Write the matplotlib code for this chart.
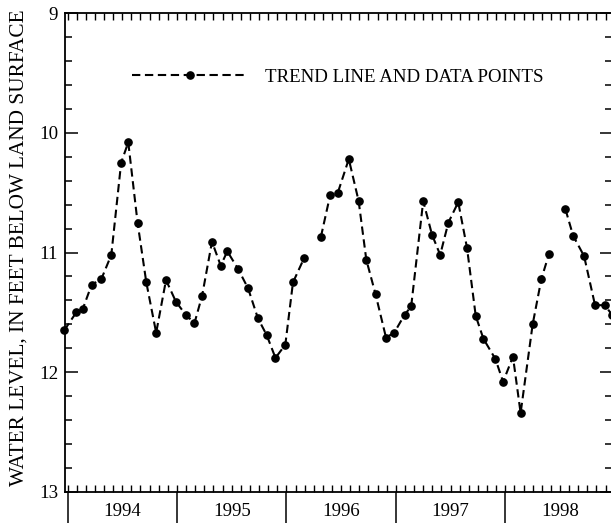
import numpy as np
import matplotlib
matplotlib.use("Agg")
import matplotlib.pyplot as plt
from matplotlib.ticker import MultipleLocator, FixedLocator, NullFormatter

# ---- data (decimal years, water level in feet below land surface) ----
dates = [1993.97, 1994.08, 1994.14, 1994.22, 1994.31, 1994.40, 1994.49, 1994.555,
         1994.64, 1994.72, 1994.81, 1994.90, 1994.99, 1995.08, 1995.16, 1995.23,
         1995.32, 1995.40, 1995.46, 1995.56, 1995.65, 1995.74, 1995.82, 1995.90,
         1995.99, 1996.06, 1996.16, 1996.24,
         1996.315, 1996.40, 1996.47, 1996.57, 1996.66, 1996.73, 1996.815, 1996.91,
         1996.985, 1997.08, 1997.14, 1997.25, 1997.33, 1997.405, 1997.48, 1997.57,
         1997.65, 1997.73, 1997.80, 1997.91, 1997.98, 1998.07, 1998.14, 1998.25,
         1998.33, 1998.40, 1998.47,
         1998.55, 1998.62, 1998.72, 1998.82, 1998.91, 1998.975]
levels = [11.65, 11.50, 11.47, 11.27, 11.22, 11.02, 10.25, 10.08,
          10.75, 11.25, 11.67, 11.23, 11.41, 11.52, 11.59, 11.36,
          10.91, 11.11, 10.99, 11.14, 11.30, 11.55, 11.69, 11.88,
          11.77, 11.25, 11.05, np.nan,
          10.87, 10.52, 10.50, 10.22, 10.57, 11.06, 11.35, 11.71,
          11.67, 11.52, 11.45, 10.57, 10.85, 11.02, 10.75, 10.58,
          10.96, 11.53, 11.72, 11.89, 12.08, 11.87, 12.34, 11.60,
          11.22, 11.01, np.nan,
          10.64, 10.86, 11.03, 11.44, 11.44, 11.52]
years = [1994, 1995, 1996, 1997, 1998]
year_labels = ["1994", "1995", "1996", "1997", "1998"]
y_ticks = [9, 10, 11, 12, 13]
legend_label = "TREND LINE AND DATA POINTS"
y_label = "WATER LEVEL, IN FEET BELOW LAND SURFACE"

plt.rcParams['font.family'] = ['Liberation Serif', 'DejaVu Serif']
plt.rcParams['lines.scale_dashes'] = True

FS = 13.6
W, H = 611, 523
fig = plt.figure(figsize=(W / 100, H / 100), dpi=100)
left_px, right_px, top_px, bot_px = 65, 612, 13, 492
ax = fig.add_axes([left_px / W, 1 - bot_px / H, (right_px - left_px) / W, (bot_px - top_px) / H])

ax.plot(dates, levels, color='black', lw=1.5, dashes=(4, 2.2),
        marker='o', markersize=5.2, markerfacecolor='black', markeredgecolor='black',
        label=legend_label, clip_on=False)

ax.set_xlim(1993.977, 1998.975)
ax.set_ylim(13, 9)

# y ticks
ax.yaxis.set_major_locator(FixedLocator(y_ticks))
ax.yaxis.set_minor_locator(MultipleLocator(0.2))
ax.tick_params(axis='y', which='both', direction='in', left=True, right=True,
               labelsize=FS, pad=5, width=1.1)
ax.tick_params(axis='y', which='major', length=9)
ax.tick_params(axis='y', which='minor', length=5)

# x ticks: monthly inward, yearly outward long
ax.xaxis.remove_overlapping_locs = False
ax.xaxis.set_major_locator(FixedLocator(years))
ax.xaxis.set_minor_locator(MultipleLocator(1 / 12))
ax.xaxis.set_major_formatter(NullFormatter())
ax.tick_params(axis='x', which='minor', direction='in', top=True, bottom=True,
               length=5, width=1.0)
ax.tick_params(axis='x', which='major', direction='out', top=False, bottom=True,
               length=24, width=1.1)
for yr, lab in zip(years, year_labels):
    ax.text(yr + 0.5, -0.04, lab, transform=ax.get_xaxis_transform(),
            ha='center', va='center', fontsize=FS)

for s in ax.spines.values():
    s.set_linewidth(1.3)

fig.text(19 / W, 1 - 248 / H, y_label, rotation=90, ha='center', va='center',
         fontsize=15.3)

ax.legend(loc='center left', bbox_to_anchor=((132 - left_px) / (right_px - left_px),
                                             1 - (77 - top_px) / (bot_px - top_px)),
          frameon=False, handlelength=6.1, handletextpad=0.95, numpoints=1,
          fontsize=FS, borderpad=0, borderaxespad=0)

fig.savefig("out.png", dpi=100)
